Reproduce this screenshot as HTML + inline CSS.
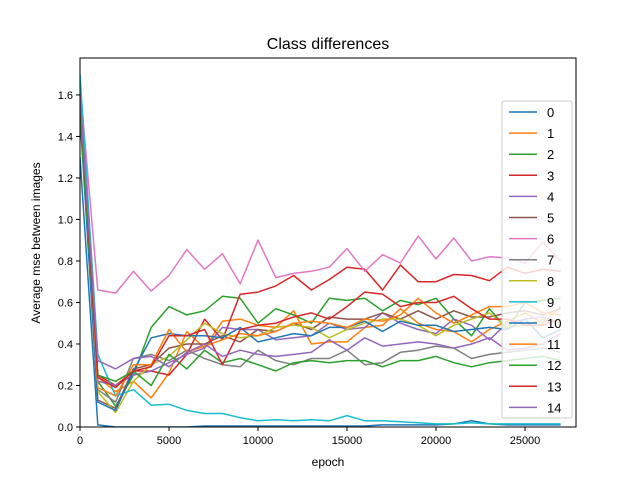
<!DOCTYPE html>
<html><head><meta charset="utf-8"><style>
body{margin:0;background:#fff}
svg{display:block;font-family:"Liberation Sans","DejaVu Sans",sans-serif}
</style></head><body>
<svg id="chart" width="640" height="480">
<rect width="640" height="480" fill="#fff"/>
<text x="328" y="49" font-size="16" text-anchor="middle">Class differences</text>
<g id="plot"></g>
<rect x="80" y="58" width="496" height="369" fill="none" stroke="#000" stroke-width="1"/>
<g id="axes"></g>
<text x="328" y="466" font-size="12" text-anchor="middle">epoch</text>
<text x="40" y="243" font-size="12" text-anchor="middle" transform="rotate(-90 40 243)">Average mse between images</text>
<g id="legend"></g>
</svg>
<script>
const xTicks=[0,5000,10000,15000,20000,25000];
const yTicks=[0,0.2,0.4,0.6,0.8,1.0,1.2,1.4,1.6];
const yTickLabels=["0.0","0.2","0.4","0.6","0.8","1.0","1.2","1.4","1.6"];
const epochs=[0,1000,2000,3000,4000,5000,6000,7000,8000,9000,10000,11000,12000,13000,14000,15000,16000,17000,18000,19000,20000,21000,22000,23000,24000,25000,26000,27000];
const colors=["#1f77b4","#ff7f0e","#2ca02c","#d62728","#9467bd","#8c564b","#e377c2","#7f7f7f","#bcbd22","#17becf","#1f77b4","#ff7f0e","#2ca02c","#d62728","#9467bd"];
const s0=[1.3,0.01,0,0,0,0,0,0.005,0.005,0.005,0.005,0.005,0.005,0.005,0.005,0.005,0.005,0.01,0.01,0.01,0.01,0.015,0.03,0.015,0.01,0.01,0.01,0.01];
const s1=[1.6,0.24,0.17,0.22,0.14,0.26,0.46,0.38,0.51,0.52,0.49,0.48,0.56,0.40,0.41,0.41,0.48,0.49,0.57,0.50,0.47,0.46,0.41,0.47,0.51,0.55,0.50,0.58];
const s2=[1.6,0.22,0.1,0.25,0.48,0.58,0.54,0.56,0.63,0.62,0.50,0.57,0.54,0.50,0.62,0.61,0.62,0.56,0.61,0.59,0.62,0.52,0.44,0.57,0.47,0.60,0.61,0.62];
const s3=[1.6,0.25,0.2,0.27,0.27,0.25,0.35,0.52,0.42,0.64,0.65,0.68,0.73,0.66,0.71,0.77,0.76,0.66,0.78,0.70,0.70,0.735,0.73,0.705,0.77,0.74,0.76,0.75];
const s4=[1.6,0.22,0.20,0.25,0.27,0.31,0.35,0.38,0.48,0.47,0.47,0.42,0.43,0.44,0.50,0.47,0.48,0.55,0.50,0.47,0.45,0.52,0.49,0.42,0.50,0.52,0.53,0.50];
const s5=[1.55,0.13,0.09,0.28,0.30,0.38,0.40,0.40,0.44,0.41,0.47,0.46,0.50,0.47,0.53,0.52,0.52,0.55,0.52,0.56,0.52,0.56,0.53,0.53,0.55,0.56,0.54,0.57];
const s6=[1.65,0.66,0.645,0.75,0.655,0.73,0.855,0.76,0.835,0.69,0.90,0.72,0.74,0.75,0.77,0.86,0.75,0.83,0.79,0.92,0.81,0.91,0.80,0.82,0.815,0.79,0.89,0.80];
const s7=[1.55,0.18,0.12,0.33,0.35,0.32,0.37,0.33,0.30,0.29,0.37,0.32,0.30,0.33,0.33,0.37,0.30,0.31,0.36,0.37,0.39,0.38,0.33,0.35,0.36,0.37,0.38,0.36];
const s8=[1.6,0.17,0.07,0.22,0.30,0.34,0.42,0.50,0.45,0.43,0.44,0.48,0.49,0.48,0.43,0.47,0.50,0.52,0.52,0.49,0.44,0.49,0.52,0.55,0.48,0.49,0.52,0.50];
const s9=[1.7,0.35,0.15,0.18,0.105,0.11,0.08,0.065,0.065,0.045,0.03,0.035,0.03,0.035,0.03,0.055,0.03,0.03,0.025,0.02,0.015,0.015,0.02,0.015,0.015,0.015,0.015,0.015];
const s10=[1.5,0.12,0.08,0.27,0.43,0.45,0.44,0.44,0.43,0.48,0.41,0.43,0.45,0.44,0.48,0.48,0.51,0.46,0.51,0.49,0.49,0.46,0.47,0.48,0.47,0.52,0.43,0.47];
const s11=[1.6,0.19,0.15,0.30,0.30,0.47,0.36,0.39,0.42,0.45,0.44,0.46,0.50,0.51,0.50,0.48,0.52,0.51,0.54,0.62,0.55,0.50,0.54,0.58,0.58,0.60,0.55,0.54];
const s12=[1.5,0.25,0.22,0.27,0.20,0.35,0.28,0.37,0.31,0.33,0.30,0.27,0.31,0.32,0.31,0.32,0.32,0.29,0.32,0.32,0.34,0.31,0.29,0.31,0.32,0.33,0.34,0.32];
const s13=[1.6,0.24,0.19,0.27,0.29,0.44,0.44,0.47,0.30,0.47,0.49,0.50,0.53,0.55,0.52,0.58,0.65,0.64,0.58,0.60,0.60,0.63,0.57,0.52,0.52,0.49,0.49,0.52];
const s14=[1.6,0.32,0.28,0.33,0.34,0.29,0.36,0.40,0.34,0.37,0.35,0.34,0.35,0.36,0.42,0.37,0.43,0.39,0.40,0.41,0.40,0.38,0.40,0.43,0.37,0.38,0.40,0.45];
const series=[s0,s1,s2,s3,s4,s5,s6,s7,s8,s9,s10,s11,s12,s13,s14];
const labels=["0","1","2","3","4","5","6","7","8","9","10","11","12","13","14"];
const NS="http://www.w3.org/2000/svg";
const X0=80,X1=576,Y0=427,Y1=58,XMAX=27865,YMAX=1.778;
function xs(v){return X0+v/XMAX*(X1-X0);}
function ys(v){return Y0-v/YMAX*(Y0-Y1);}
function mk(t,a,p){const e=document.createElementNS(NS,t);for(const k in a)e.setAttribute(k,a[k]);p.appendChild(e);return e;}
const plot=document.getElementById('plot');
const cp=mk('clipPath',{id:'cp'},plot);mk('rect',{x:X0,y:Y1,width:X1-X0,height:Y0-Y1},cp);
series.forEach((s,i)=>{
  const pts=s.map((v,j)=>xs(epochs[j]).toFixed(1)+','+ys(v).toFixed(1)).join(' ');
  const pl=mk('polyline',{points:pts,fill:'none',stroke:colors[i],'stroke-width':1.5,'clip-path':'url(#cp)','stroke-linejoin':'round'},plot);
  
  
});
const axes=document.getElementById('axes');
xTicks.forEach(t=>{
  const x=xs(t);
  const l=mk('line',{x1:x,x2:x,y1:Y0,y2:Y0+4,stroke:'#000'},axes);
  
  
  const tx=mk('text',{x:x,y:Y0+17,'font-size':11,'text-anchor':'middle'},axes);tx.textContent=String(t);
  
  
});
yTicks.forEach((t,i)=>{
  const y=ys(t);
  const l=mk('line',{x1:X0-4,x2:X0,y1:y,y2:y,stroke:'#000'},axes);
  
  
  const tx=mk('text',{x:X0-7,y:y+4,'font-size':11,'text-anchor':'end'},axes);tx.textContent=yTickLabels[i];
  
  
});
const lg=document.getElementById('legend');


mk('rect',{x:502,y:101,width:70,height:317,rx:2,fill:'#fff','fill-opacity':0.8,stroke:'#ccc'},lg);
labels.forEach((lab,i)=>{
  const y=112+i*21.1;
  const g=mk('g',{},lg);
  
  
  mk('line',{x1:509,x2:537,y1:y,y2:y,stroke:colors[i],'stroke-width':1.5},g);
  const t=mk('text',{x:547,y:y+5,'font-size':13},g);t.textContent=lab;
});
</script>
</body></html>
